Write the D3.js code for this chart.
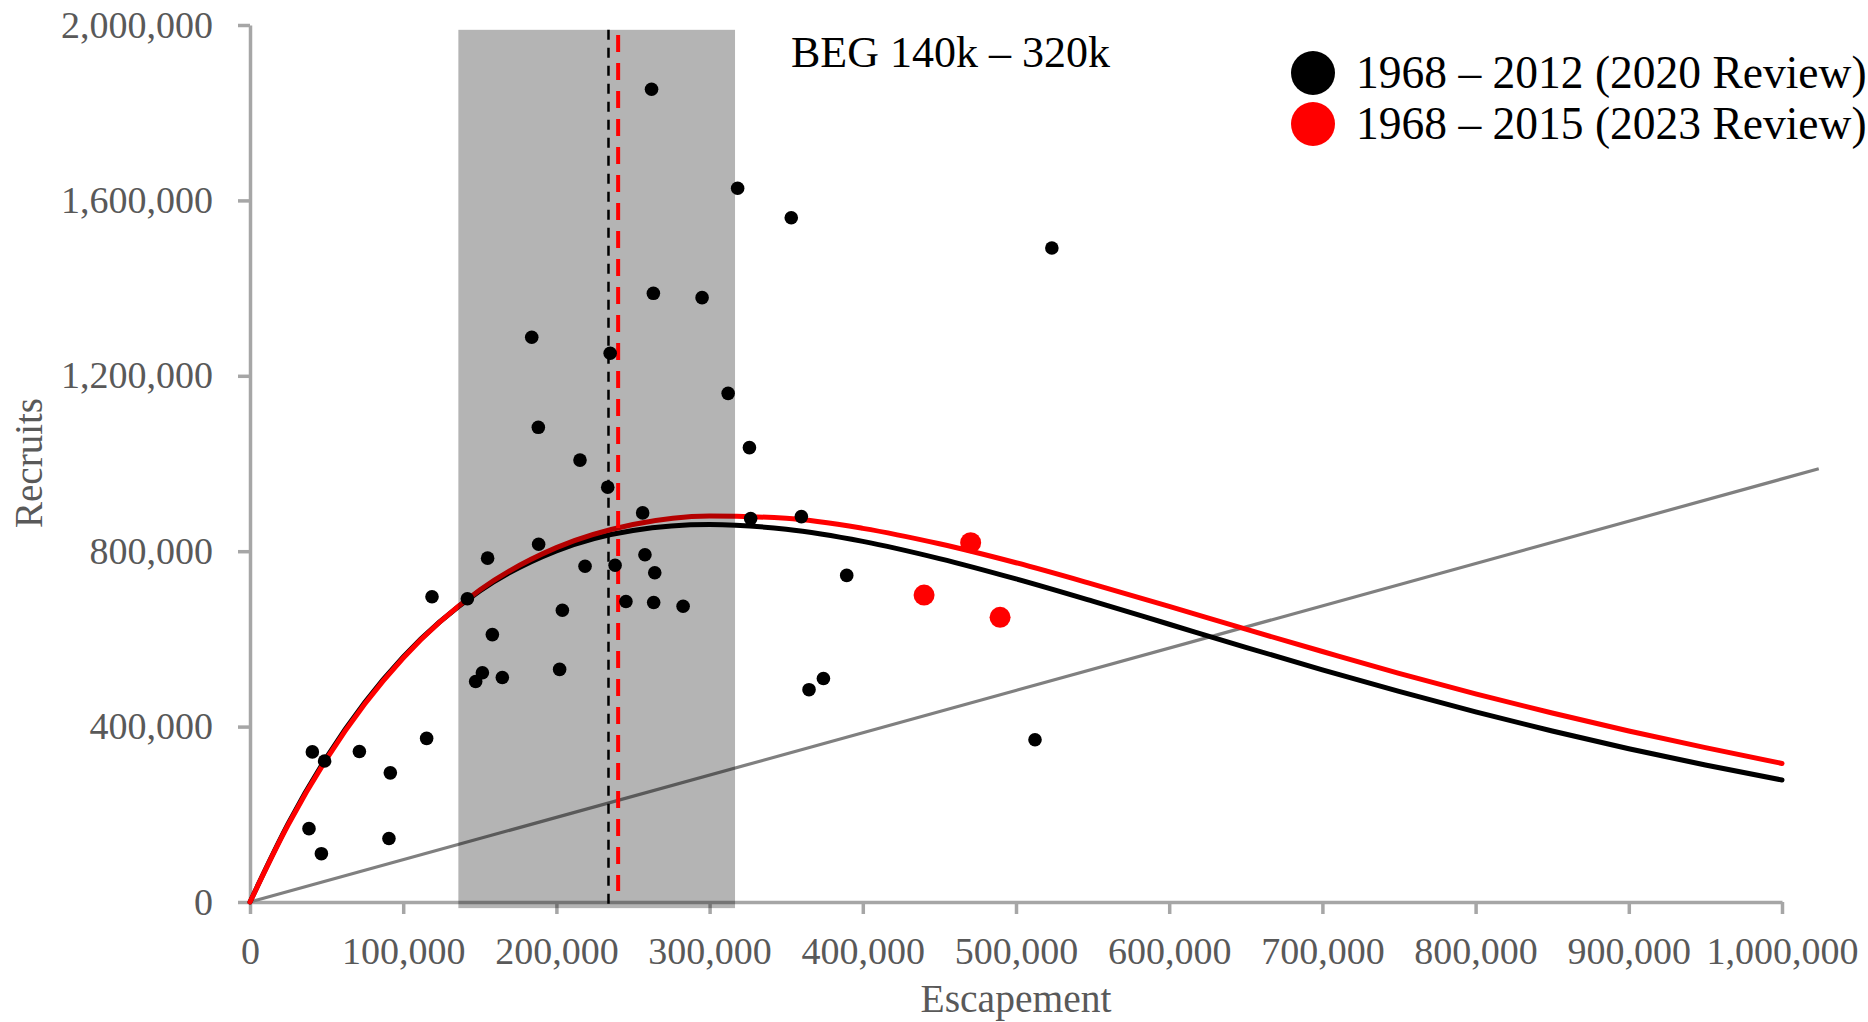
<!DOCTYPE html>
<html><head><meta charset="utf-8">
<script src="https://cdn.jsdelivr.net/npm/d3@7"></script>
<style>
body{margin:0;background:#fff}
svg{display:block}
text{font-family:"Liberation Serif","Times New Roman",serif}
</style>
</head><body><svg id="chart" width="1868" height="1022"></svg>
<script>
// ---- data ----
const escapement2020 = [262100,318300,353300,523400,263300,295100,183900,235100,312100,188200,
  215400,326000,233500,256300,326800,359900,188400,155100,257800,218700,
  238300,264200,389500,118800,141900,245400,263500,282700,203900,158200,
  202100,151700,147300,164700,374300,364900,115300,512400,40700,71400,
  48700,91600,38500,90700,46600];
const recruits2020 = [1853400,1627600,1560500,1491500,1388100,1378200,1287800,1251300,1160000,1082500,
  1007700,1036200,946000,887400,874300,878900,815700,784100,791800,765600,
  767900,750900,744800,696200,691600,685400,683100,674600,665400,609800,
  530400,522700,502700,511900,509600,484200,373100,370100,342300,343100,
  321500,294500,167300,144900,110200];
const escapement2023 = [440000,470400,489600];
const recruits2023 = [700000,819500,649200];

const curveEscapement = [0,25000,50000,75000,100000,150000,200000,250000,300000,350000,400000,
  450000,500000,550000,600000,650000,700000,750000,800000,850000,900000,950000,1000000];
const ricker2020 = [0,179400,330100,455600,558900,709600,800900,847400,860800,850100,822400,
  783100,736700,686000,633400,580800,529500,480200,433600,389900,349500,312300,278200];
const ricker2023 = [0,176800,326500,452100,556400,711300,808100,860800,880300,875100,852100,
  816900,773600,724900,674000,622100,571300,521400,474500,431000,390000,352000,316000];

const replacementEscapement = [0,1024000];
const replacementRecruits = [0,988000];

const begBandEscapement = [136000,316600];
const begBandRecruits = [-14000,1989000];
const smsy2020 = 234000, smsy2020Span = [-22000,1989000];
const smsy2023 = 240300, smsy2023Span = [25000,1977000];

const xTicks = [0,100000,200000,300000,400000,500000,600000,700000,800000,900000,1000000];
const yTicks = [0,400000,800000,1200000,1600000,2000000];
const seriesLabels = ["1968 \u2013 2012 (2020 Review)","1968 \u2013 2015 (2023 Review)"];
const seriesColors = ["#000000","#ff0000"];
const begLabel = "BEG 140k \u2013 320k";
const xTitle = "Escapement", yTitle = "Recruits";

// ---- layout ----
const svg = d3.select("#chart");
const m = {left:250, right:86, top:25, bottom:120};
const W = 1868, H = 1022;
const x = d3.scaleLinear().domain([0,1000000]).range([m.left, W-m.right]);
const y = d3.scaleLinear().domain([0,2000000]).range([H-m.bottom, m.top]);
const axisGrey = "#a6a6a6", labelGrey = "#595959";
const fmt = d3.format(",");

// axes
const gx = svg.append("g").attr("transform",`translate(0,${y(0)})`)
  .call(d3.axisBottom(x).tickValues(xTicks).tickFormat(fmt).tickSize(12).tickSizeOuter(0).tickPadding(23));
const gy = svg.append("g").attr("transform",`translate(${x(0)},0)`)
  .call(d3.axisLeft(y).tickValues(yTicks).tickFormat(fmt).tickSize(12).tickSizeOuter(0).tickPadding(25));
[gx,gy].forEach(g=>{
  g.select(".domain").attr("stroke",axisGrey).attr("stroke-width",3.5);
  g.selectAll(".tick line").attr("stroke",axisGrey).attr("stroke-width",3.5);
  g.selectAll(".tick text").attr("fill",labelGrey).style("font-size","38px")
   .style("font-family","'Liberation Serif',serif");
});

// replacement line
svg.append("path")
  .attr("d", d3.line()(replacementEscapement.map((s,i)=>[x(s),y(replacementRecruits[i])])))
  .attr("stroke","#808080").attr("stroke-width",3.2).attr("fill","none");

// Ricker curves
const line = d3.line().curve(d3.curveMonotoneX);
svg.append("path").attr("d", line(curveEscapement.map((s,i)=>[x(s),y(ricker2020[i])])))
  .attr("stroke","#000").attr("stroke-width",5).attr("fill","none").attr("stroke-linecap","round");
svg.append("path").attr("d", line(curveEscapement.map((s,i)=>[x(s),y(ricker2023[i])])))
  .attr("stroke","#ff0000").attr("stroke-width",5).attr("fill","none").attr("stroke-linecap","round");

// BEG band (translucent)
svg.append("rect")
  .attr("x", x(begBandEscapement[0])).attr("width", x(begBandEscapement[1])-x(begBandEscapement[0]))
  .attr("y", y(begBandRecruits[1])).attr("height", y(begBandRecruits[0])-y(begBandRecruits[1]))
  .attr("fill","#000").attr("fill-opacity",0.295);

// Smsy dashed lines
svg.append("line").attr("x1",x(smsy2020)).attr("x2",x(smsy2020))
  .attr("y1",y(smsy2020Span[1])).attr("y2",y(smsy2020Span[0]))
  .attr("stroke","#000").attr("stroke-width",2.5).attr("stroke-dasharray","10,8");
svg.append("line").attr("x1",x(smsy2023)).attr("x2",x(smsy2023))
  .attr("y1",y(smsy2023Span[1])).attr("y2",y(smsy2023Span[0]))
  .attr("stroke","#ff0000").attr("stroke-width",4).attr("stroke-dasharray","17,11");

// points
svg.append("g").selectAll("circle").data(escapement2020.map((s,i)=>[s,recruits2020[i]])).join("circle")
  .attr("cx",d=>x(d[0])).attr("cy",d=>y(d[1])).attr("r",6.8).attr("fill","#000");
svg.append("g").selectAll("circle").data(escapement2023.map((s,i)=>[s,recruits2023[i]])).join("circle")
  .attr("cx",d=>x(d[0])).attr("cy",d=>y(d[1])).attr("r",10.5).attr("fill","#ff0000");

// BEG label
svg.append("text").attr("x",791).attr("y",67).text(begLabel)
  .attr("fill","#000").style("font-size","44px");

// legend
const lg = svg.append("g");
seriesLabels.forEach((lab,i)=>{
  const cy = 73 + i*51;
  lg.append("circle").attr("cx",1313).attr("cy",cy).attr("r",22).attr("fill",seriesColors[i]);
  lg.append("text").attr("x",1356).attr("y",cy+15).text(lab).attr("fill","#000").style("font-size","45.5px");
});

// axis titles
svg.append("text").attr("x",(x(0)+x(1000000))/2).attr("y",1012).attr("text-anchor","middle")
  .attr("fill",labelGrey).style("font-size","39.5px").text(xTitle);
svg.append("text").attr("transform","translate(42,463) rotate(-90)").attr("text-anchor","middle")
  .attr("fill",labelGrey).style("font-size","39px").text(yTitle);
</script>
</body></html>
